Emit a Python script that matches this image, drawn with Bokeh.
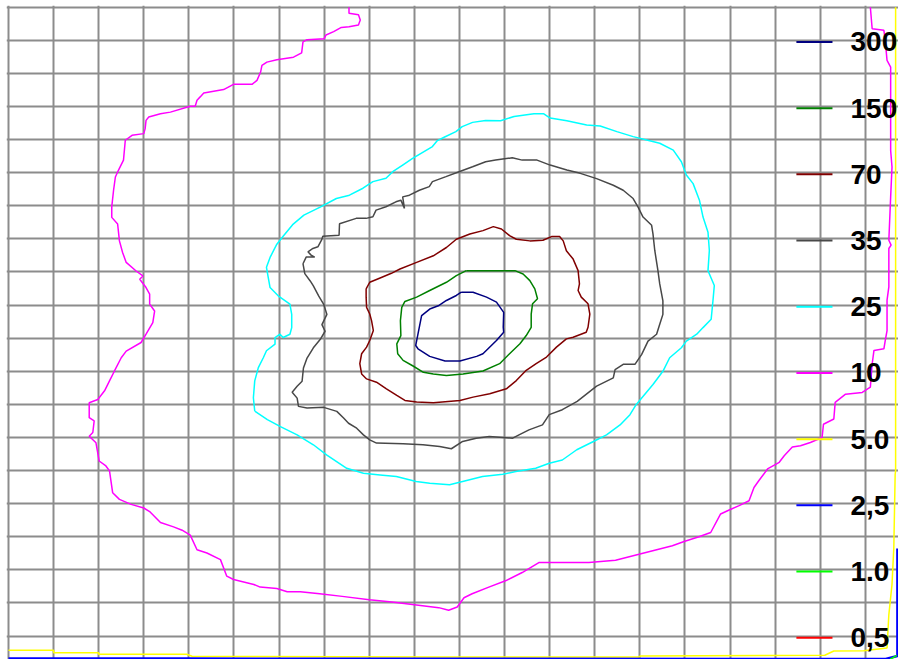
from bokeh.plotting import figure
from bokeh.models import Range1d, Grid, FixedTicker, ColumnDataSource
from bokeh.core.properties import value
from bokeh.embed import file_html
from bokeh.resources import INLINE

# ---- data (grid-cell units, y measured downward from the top grid line) ----
levels = ["300", "150", "70", "35", "25", "10", "5.0", "2,5", "1.0", "0,5"]
level_colors = ["#000080", "#008000", "#800000", "#484848", "#00ffff",
                "#ff00ff", "#ffff00", "#0000ff", "#00ff00", "#ff0000"]

c300_x = [10.04, 10.30, 10.60, 10.82, 10.98, 10.97, 10.98, 10.82, 10.52, 10.38, 10.01, 9.68, 9.34, 9.08, 9.03, 9.08, 9.16, 9.34, 9.53, 9.71, 9.93, 10.04]
c300_y = [8.61, 8.61, 8.76, 8.91, 9.22, 9.67, 9.82, 10.07, 10.47, 10.55, 10.69, 10.69, 10.55, 10.32, 10.22, 9.87, 9.32, 9.12, 9.02, 8.86, 8.71, 8.61]

c150_x = [10.15, 10.67, 11.23, 11.41, 11.56, 11.67, 11.73, 11.62, 11.59, 11.59, 11.48, 11.34, 11.11, 10.89, 10.52, 10.08, 9.71, 9.42, 9.20, 8.97, 8.75, 8.63, 8.61, 8.70, 8.69, 8.72, 8.79, 9.05, 9.34, 9.71, 9.93, 10.15]
c150_y = [7.96, 7.96, 7.96, 8.06, 8.26, 8.51, 8.81, 8.96, 9.27, 9.67, 9.92, 10.17, 10.47, 10.77, 10.99, 11.08, 11.13, 11.08, 11.03, 10.84, 10.67, 10.47, 10.17, 9.92, 9.47, 9.07, 8.89, 8.76, 8.56, 8.31, 8.11, 7.96]

c70_x = [7.93, 8.01, 8.24, 8.49, 8.68, 9.05, 9.42, 9.71, 9.93, 10.23, 10.52, 10.75, 10.93, 11.11, 11.26, 11.56, 11.85, 12.04, 12.22, 12.30, 12.37, 12.52, 12.63, 12.66, 12.63, 12.70, 12.85, 12.89, 12.85, 12.81, 12.52, 12.37, 12.15, 11.93, 11.70, 11.48, 11.26, 11.04, 10.67, 10.30, 10.01, 9.42, 9.05, 8.79, 8.61, 8.38, 8.16, 7.94, 7.83, 7.79, 7.83, 7.94, 8.01, 8.09, 8.05, 8.01, 7.94, 7.93, 7.93]
c70_y = [8.51, 8.31, 8.18, 8.04, 7.91, 7.71, 7.51, 7.26, 7.01, 6.85, 6.75, 6.63, 6.70, 6.90, 7.01, 7.06, 7.04, 6.93, 6.93, 7.06, 7.36, 7.61, 7.96, 8.36, 8.56, 8.76, 8.96, 9.27, 9.67, 9.82, 9.97, 10.02, 10.27, 10.57, 10.77, 10.97, 11.28, 11.53, 11.68, 11.78, 11.88, 11.95, 11.93, 11.88, 11.73, 11.53, 11.33, 11.23, 11.08, 10.77, 10.47, 10.27, 10.07, 9.77, 9.47, 9.27, 9.07, 8.76, 8.51]

c35_x = [6.53, 6.60, 6.79, 6.71, 6.64, 6.75, 6.86, 6.94, 6.97, 7.33, 7.34, 7.71, 7.93, 8.08, 8.15, 8.37, 8.59, 8.70, 8.78, 8.74, 8.89, 9.11, 9.33, 9.40, 9.70, 9.99, 10.29, 10.58, 10.80, 11.17, 11.39, 11.72, 12.01, 12.38, 12.68, 13.04, 13.41, 13.63, 13.85, 13.96, 14.07, 14.26, 14.29, 14.33, 14.40, 14.44, 14.51, 14.51, 14.44, 14.37, 14.18, 14.04, 13.89, 13.63, 13.45, 13.41, 13.04, 12.61, 12.28, 11.99, 11.84, 11.54, 11.32, 11.18, 10.66, 10.37, 10.07, 9.82, 9.56, 9.19, 8.75, 8.16, 8.01, 7.87, 7.72, 7.54, 7.43, 7.28, 6.99, 6.62, 6.43, 6.40, 6.29, 6.40, 6.51, 6.54, 6.62, 6.76, 6.91, 7.02, 6.95, 7.06, 6.99, 6.88, 6.76, 6.69, 6.57, 6.53]
c35_y = [7.75, 7.55, 7.55, 7.49, 7.39, 7.29, 7.24, 7.04, 6.92, 6.89, 6.54, 6.38, 6.38, 6.33, 6.13, 6.03, 5.88, 5.83, 6.08, 5.73, 5.68, 5.53, 5.42, 5.27, 5.12, 4.97, 4.82, 4.67, 4.62, 4.55, 4.62, 4.62, 4.77, 4.92, 5.02, 5.18, 5.38, 5.53, 5.78, 6.04, 6.34, 6.59, 6.85, 7.35, 7.96, 8.36, 8.87, 9.28, 9.58, 9.88, 10.09, 10.49, 10.79, 10.79, 10.95, 11.20, 11.45, 11.91, 12.16, 12.31, 12.62, 12.77, 12.92, 13.02, 12.97, 13.02, 13.12, 13.34, 13.27, 13.22, 13.19, 13.17, 13.07, 12.92, 12.72, 12.57, 12.41, 12.21, 12.09, 12.11, 12.06, 11.81, 11.63, 11.45, 11.30, 10.90, 10.60, 10.29, 10.04, 9.79, 9.59, 9.28, 8.98, 8.73, 8.42, 8.27, 8.05, 7.75]

c25_x = [5.46, 5.43, 5.46, 5.54, 5.65, 5.72, 5.91, 5.91, 6.02, 6.09, 6.24, 6.28, 6.28, 6.24, 5.98, 5.80, 5.76, 5.72, 5.80, 5.95, 6.09, 6.30, 6.55, 6.90, 7.27, 7.56, 7.86, 8.08, 8.37, 8.52, 8.74, 8.96, 9.40, 9.51, 9.66, 9.92, 10.06, 10.29, 10.58, 10.91, 11.21, 11.65, 11.87, 12.01, 12.38, 12.82, 13.12, 13.49, 13.85, 14.15, 14.44, 14.74, 14.92, 15.03, 15.18, 15.32, 15.40, 15.51, 15.54, 15.51, 15.65, 15.62, 15.58, 15.40, 15.26, 15.03, 14.92, 14.66, 14.51, 14.29, 13.92, 13.78, 13.56, 13.26, 12.97, 12.60, 12.28, 11.99, 11.69, 11.25, 10.96, 10.51, 10.07, 9.78, 9.34, 9.04, 8.60, 8.24, 7.87, 7.50, 7.06, 6.76, 6.40, 6.03, 5.74, 5.46]
c25_y = [12.20, 11.80, 11.29, 10.89, 10.59, 10.38, 10.18, 9.98, 9.88, 9.98, 9.88, 9.68, 9.28, 8.97, 8.72, 8.47, 8.17, 7.86, 7.56, 7.16, 6.92, 6.57, 6.28, 6.05, 5.78, 5.68, 5.47, 5.27, 5.17, 4.97, 4.77, 4.57, 4.21, 4.03, 3.93, 3.76, 3.61, 3.48, 3.42, 3.43, 3.30, 3.22, 3.22, 3.35, 3.43, 3.56, 3.59, 3.76, 3.91, 4.01, 4.11, 4.32, 4.67, 5.07, 5.33, 5.83, 6.34, 6.80, 7.35, 7.96, 8.41, 8.87, 9.43, 9.68, 9.88, 10.09, 10.29, 10.59, 11.00, 11.40, 12.00, 12.31, 12.62, 12.92, 13.12, 13.37, 13.68, 13.78, 13.93, 14.03, 14.11, 14.18, 14.33, 14.43, 14.38, 14.33, 14.18, 14.13, 14.08, 13.93, 13.53, 13.22, 12.92, 12.67, 12.46, 12.20]

c10_x = [7.55, 7.55, 7.76, 7.80, 7.76, 7.55, 7.38, 7.21, 7.04, 7.00, 6.62, 6.53, 6.50, 6.32, 5.95, 5.73, 5.62, 5.59, 5.51, 5.40, 4.99, 4.77, 4.33, 4.25, 4.18, 4.14, 4.03, 3.59, 3.37, 3.11, 3.05, 3.03, 3.00, 2.74, 2.59, 2.55, 2.44, 2.37, 2.33, 2.29, 2.29, 2.42, 2.46, 2.53, 2.61, 2.83, 2.98, 2.91, 3.05, 3.13, 3.13, 3.24, 3.20, 3.05, 2.94, 2.61, 2.50, 2.35, 2.24, 2.13, 1.98, 1.79, 1.79, 1.90, 1.87, 1.79, 1.94, 2.01, 2.16, 2.24, 2.31, 2.46, 2.72, 3.00, 3.14, 3.37, 3.66, 3.85, 4.03, 4.18, 4.40, 4.70, 4.84, 4.99, 5.44, 5.58, 5.95, 6.18, 6.47, 6.90, 7.40, 8.00, 8.50, 9.00, 9.54, 9.76, 9.95, 10.10, 10.28, 10.65, 11.02, 11.39, 11.76, 12.87, 13.46, 13.98, 14.35, 14.72, 14.98, 15.31, 15.57, 15.79, 15.98, 16.20, 16.42, 16.53, 16.64, 16.83, 17.09, 17.20, 17.38, 17.56, 17.78, 18.04, 18.07, 18.30, 18.33, 18.56, 18.93, 19.11, 19.15, 19.19, 19.41, 19.44, 19.48, 19.48, 19.52, 19.52, 19.57, 19.52, 19.56, 19.59, 19.56, 19.56, 19.48, 19.44, 19.41, 19.15, 19.11]
c10_y = [0.00, 0.18, 0.23, 0.39, 0.54, 0.59, 0.61, 0.74, 0.84, 0.95, 0.98, 1.05, 1.38, 1.51, 1.59, 1.66, 1.76, 1.96, 2.21, 2.33, 2.33, 2.49, 2.59, 2.71, 2.81, 2.99, 2.99, 3.17, 3.22, 3.32, 3.42, 3.67, 3.82, 3.87, 4.02, 4.62, 4.92, 5.13, 5.53, 6.03, 6.35, 6.55, 7.06, 7.41, 7.71, 7.97, 8.12, 8.22, 8.47, 8.67, 8.97, 9.18, 9.53, 9.88, 10.13, 10.39, 10.59, 10.99, 11.29, 11.59, 11.85, 11.95, 12.40, 12.50, 12.85, 12.96, 13.16, 13.71, 13.86, 14.01, 14.67, 14.87, 15.02, 15.13, 15.25, 15.57, 15.70, 15.80, 15.95, 16.39, 16.49, 16.69, 17.19, 17.29, 17.44, 17.52, 17.56, 17.66, 17.66, 17.72, 17.80, 17.90, 17.97, 18.05, 18.14, 18.22, 18.12, 17.84, 17.72, 17.52, 17.33, 17.08, 16.78, 16.78, 16.71, 16.53, 16.40, 16.27, 16.14, 16.00, 15.87, 15.31, 15.19, 15.06, 14.91, 14.51, 14.30, 13.95, 13.75, 13.55, 13.29, 13.25, 13.15, 13.00, 12.60, 12.44, 11.94, 11.69, 11.64, 11.48, 10.78, 10.37, 10.32, 10.07, 9.77, 8.85, 8.45, 7.29, 7.19, 7.04, 5.73, 4.83, 4.33, 1.81, 1.61, 1.01, 0.70, 0.65, 0.00]

c5_x = [0.00, 1.00, 1.00, 2.00, 2.00, 3.95, 4.07, 9.50, 14.00, 14.00, 18.10, 18.30, 18.96, 19.48, 19.52, 19.59, 19.63, 19.66, 19.67, 19.67]
c5_y = [19.43, 19.43, 19.50, 19.50, 19.55, 19.55, 19.61, 19.63, 19.63, 19.60, 19.58, 19.45, 19.44, 19.36, 18.35, 17.44, 16.33, 14.11, 14.01, 0.00]

c2_5_x = [0.00, 4.00, 19.45, 19.71, 19.71]
c2_5_y = [19.68, 19.68, 19.69, 19.60, 16.35]

c1_x = [19.55, 19.70]
c1_y = [19.70, 19.58]

contours = [
    (c300_x, c300_y, level_colors[0]),
    (c150_x, c150_y, level_colors[1]),
    (c70_x, c70_y, level_colors[2]),
    (c35_x, c35_y, level_colors[3]),
    (c25_x, c25_y, level_colors[4]),
    (c10_x, c10_y, level_colors[5]),
    (c5_x, c5_y, level_colors[6]),
    (c2_5_x, c2_5_y, level_colors[7]),
    (c1_x, c1_y, level_colors[8]),
]

# ---- figure ----
p = figure(width=898, height=659,
           x_range=Range1d(-0.044, 19.734), y_range=Range1d(19.707, -0.051),
           output_backend="svg", toolbar_location=None,
           x_axis_location=None, y_axis_location=None,
           min_border_left=6, min_border_top=5, min_border_right=0, min_border_bottom=0,
           outline_line_color=None, background_fill_color="white",
           border_fill_color="white")
p.grid.visible = False

p.add_layout(Grid(dimension=0, ticker=FixedTicker(ticks=list(range(0, 20))),
                  grid_line_color="#8c8c8c", grid_line_width=2))
p.add_layout(Grid(dimension=1, ticker=FixedTicker(ticks=list(range(0, 20))),
                  grid_line_color="#8c8c8c", grid_line_width=2))

for xs, ys, col in contours:
    w = 2.5 if col == "#0000ff" else 1.5
    p.line(xs, ys, line_color=col, line_width=w)

# legend
ly = [1.05 + 2 * i for i in range(len(levels))]
leg = ColumnDataSource(dict(x0=[17.47] * len(levels), x1=[18.27] * len(levels),
                            y=ly, c=level_colors, t=levels,
                            tx=[18.67] * len(levels)))
p.segment(x0="x0", x1="x1", y0="y", y1="y", line_color="c", line_width=2, source=leg)
p.text(x="tx", y="y", text="t", source=leg, text_color="black",
       text_font=value("Liberation Sans"), text_font_style="bold",
       text_font_size="28px", text_baseline="middle", text_align="left")

open("out.html", "w").write(file_html(p, INLINE))
